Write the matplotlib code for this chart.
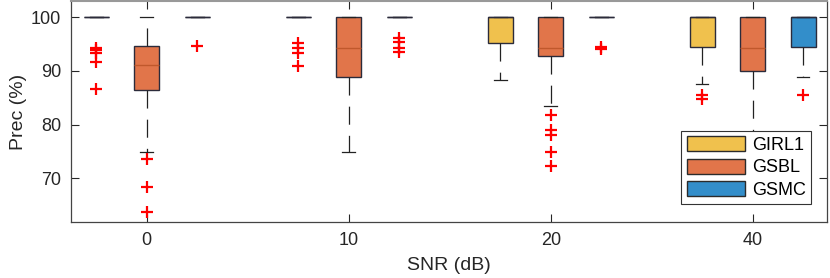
import numpy as np
import matplotlib
matplotlib.use("Agg")
import matplotlib.pyplot as plt
from matplotlib.patches import Patch

plt.rcParams['font.family'] = ['Liberation Sans', 'DejaVu Sans']
plt.rcParams['lines.scale_dashes'] = False

# SNR groups and methods
snr_labels = ['0', '10', '20', '40']
methods = ['GIRL1', 'GSBL', 'GSMC']
colors = ['#F0C14D', '#E1754A', '#338ECA']
median_colors = ['#2b2b3b', '#C0582C', '#2b2b3b']

# box statistics per method, one value per SNR group
q1 = {
    'GIRL1': [100, 100, 95.2, 94.4],
    'GSBL': [86.4, 88.9, 92.8, 90.0],
    'GSMC': [100, 100, 100, 94.4],
}
med = {
    'GIRL1': [100, 100, 100, 100],
    'GSBL': [91.1, 94.2, 94.2, 94.2],
    'GSMC': [100, 100, 100, 100],
}
q3 = {
    'GIRL1': [100, 100, 100, 100],
    'GSBL': [94.7, 100, 100, 100],
    'GSMC': [100, 100, 100, 100],
}
whislo = {
    'GIRL1': [100, 100, 88.3, 87.5],
    'GSBL': [75.0, 75.0, 83.4, 68.0],
    'GSMC': [100, 100, 100, 88.9],
}
whishi = {
    'GIRL1': [100, 100, 100, 100],
    'GSBL': [100, 100, 100, 100],
    'GSMC': [100, 100, 100, 100],
}
fliers = {
    'GIRL1': [[94.3, 93.8, 93.3, 91.6, 86.6], [95.1, 94.2, 93.3, 91.0], [], [85.5, 84.8]],
    'GSBL': [[73.7, 68.5, 63.7], [], [81.8, 79.0, 78.1, 75.0, 72.3], []],
    'GSMC': [[94.7], [96.2, 95.3, 94.3, 93.5], [94.4, 94.1], [85.6]],
}

offsets = [-0.25, 0.0, 0.25]
box_w = 0.125

fig = plt.figure(figsize=(8.3, 2.78), dpi=100)
ax = fig.add_axes([71 / 830, 1 - 222 / 278, 756 / 830, 221 / 278])

for m, name in enumerate(methods):
    stats = []
    for g in range(len(snr_labels)):
        stats.append({
            'q1': q1[name][g], 'med': med[name][g], 'q3': q3[name][g],
            'whislo': whislo[name][g], 'whishi': whishi[name][g],
            'fliers': np.array(fliers[name][g]),
        })
    pos = np.arange(len(snr_labels)) + offsets[m]
    ax.bxp(stats, positions=pos, widths=box_w, patch_artist=True,
           showfliers=True,
           boxprops=dict(facecolor=colors[m], edgecolor='#2b2b3b', linewidth=1.0),
           medianprops=dict(color=median_colors[m], linewidth=1.0),
           whiskerprops=dict(color='#222222', linewidth=0.9, linestyle=(0, (13, 8))),
           capprops=dict(color='#222222', linewidth=0.9),
           capwidths=box_w / 2,
           flierprops=dict(marker='+', markeredgecolor='red', markersize=9,
                           markeredgewidth=1.6, linestyle='none'),
           manage_ticks=False)

ax.set_xlim(-0.375, 3.368)
ax.set_ylim(61.9, 103.0)
ax.set_xticks(np.arange(len(snr_labels)))
ax.set_xticklabels(snr_labels)
ax.set_yticks([70, 80, 90, 100])
ax.tick_params(direction='in', top=True, right=True, length=5.5, width=0.8,
               labelsize=13, colors='#262626', pad=7)
for s in ax.spines.values():
    s.set_color('#444444')
    s.set_linewidth(0.9)
ax.spines['top'].set_color('#999999')
ax.spines['top'].set_linewidth(1.5)

ax.set_xlabel('SNR (dB)', fontsize=14, color='#262626', labelpad=6)
ax.set_ylabel('Prec (%)', fontsize=14, color='#262626', labelpad=3)

handles = [Patch(facecolor=c, edgecolor='#2b2b2b', linewidth=1.0) for c in colors]
leg = ax.legend(handles, methods, loc='lower right', bbox_to_anchor=(0.979, 0.081),
                borderaxespad=0, fontsize=13, fancybox=False, framealpha=1,
                edgecolor='#333333', handlelength=3.2, handleheight=0.9,
                labelspacing=0.25, handletextpad=0.4, borderpad=0.3)
leg.get_frame().set_linewidth(0.8)
leg.set_zorder(10)

fig.savefig('out.png', dpi=100)
